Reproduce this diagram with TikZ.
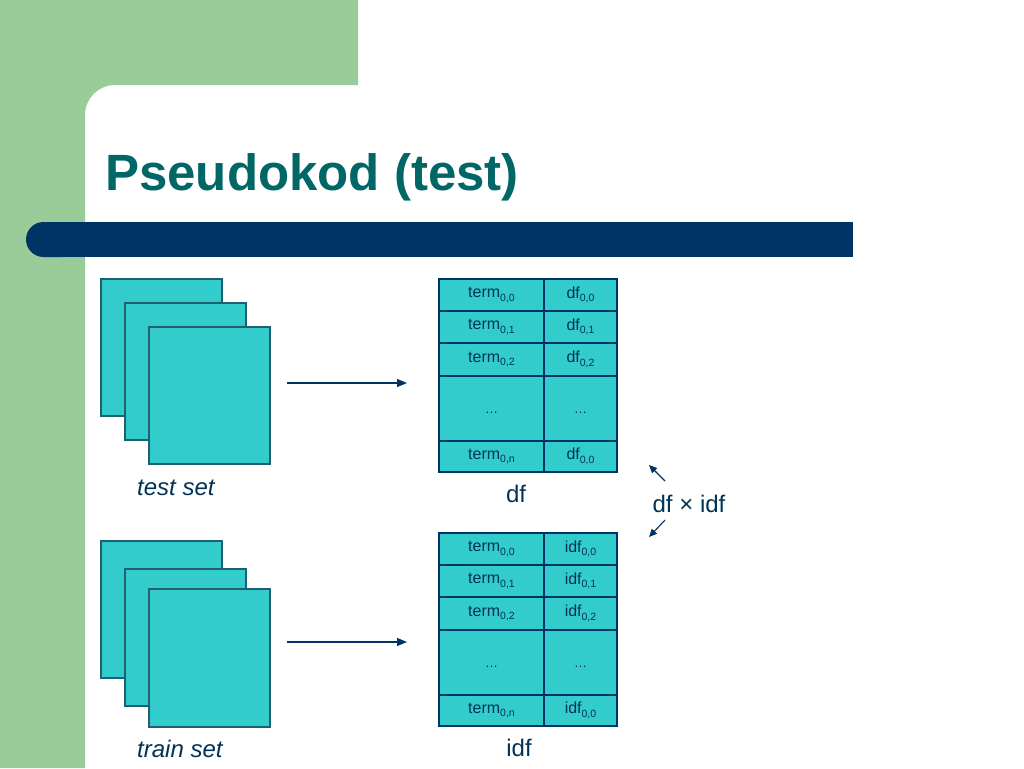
\documentclass[tikz,border=0pt]{standalone}
\usepackage{fontspec}
\setmainfont{Liberation Sans}
\usetikzlibrary{arrows.meta}
\definecolor{bggreen}{HTML}{99CC99}
\definecolor{barblue}{HTML}{003366}
\definecolor{titleteal}{HTML}{006666}
\definecolor{cyanfill}{HTML}{33CCCC}
\definecolor{edgeteal}{HTML}{1F5F6F}
\definecolor{txtblue}{HTML}{003355}
\newcommand{\sbs}[1]{\raisebox{-0.4ex}{\fontsize{10.5}{11}\selectfont #1}}
\newcommand{\myellip}{\raisebox{-5pt}[0pt][0pt]{\fontsize{13}{15}\selectfont …}}
\begin{document}
\begin{tikzpicture}[x=1pt,y=-1pt,
  sheet/.style={draw=edgeteal, fill=cyanfill, line width=1.2pt, inner sep=0pt, outer sep=0pt, anchor=north west, minimum width=121pt, minimum height=137pt},
  cell/.style={draw=barblue, fill=cyanfill, line width=1.1pt, inner sep=0pt, outer sep=0pt, anchor=north west, text=txtblue, font=\fontsize{16}{19}\selectfont},
  lcol/.style={cell, minimum width=105pt},
  rcol/.style={cell, minimum width=73pt},
  conn/.style={draw=barblue, line width=1.2pt, -{Triangle[length=10pt,width=8pt]}},
  small/.style={draw=barblue, line width=1.1pt, -{Triangle[length=8pt,width=7pt]}},
  setlabel/.style={anchor=base west, text=txtblue, font=\fontsize{24}{28}\selectfont\itshape, inner sep=0pt},
  tlabel/.style={anchor=base, text=txtblue, font=\fontsize{24}{28}\selectfont, inner sep=0pt}
]
\useasboundingbox (0,0) rectangle (1024,768);
\clip (0,0) rectangle (1024,768);
% background
\fill[white] (0,0) rectangle (1024,768);
\fill[bggreen] (0,0) -- (358,0) -- (358,85) -- (115,85)
  .. controls (98.43,85) and (85,98.43) .. (85,115) -- (85,768) -- (0,768) -- cycle;
% bar
\fill[barblue, rounded corners=17.5pt] (26,222) rectangle (80,257);
\fill[barblue] (50,222) rectangle (853,257);
% title
\node[anchor=base west, inner sep=0pt, text=titleteal, font=\fontsize{51}{60}\selectfont\bfseries] (title) at (105,190) {Pseudokod (test)};

% test set sheets
\node[sheet] (t1) at (101,279) {};
\node[sheet] (t2) at (125,303) {};
\node[sheet] (t3) at (149,327) {};
\node[setlabel] (tsl) at (137,495) {test set};
% train set sheets
\node[sheet] (r1) at (101,541) {};
\node[sheet] (r2) at (125,569) {};
\node[sheet, minimum height=138pt] (r3) at (149,589) {};
\node[setlabel] (rsl) at (137,757) {train set};

% arrows
\coordinate (a1s) at (287,383);
\coordinate (a1e) at (407,383);
\draw[conn] (a1s) -- (a1e);
\coordinate (a2s) at (287,642);
\coordinate (a2e) at (407,642);
\draw[conn] (a2s) -- (a2e);

% df table
\node[lcol, minimum height=32pt] (d0l) at (439,279) {term\sbs{0,0}};
\node[rcol, minimum height=32pt] (d0r) at (544,279) {df\sbs{0,0}};
\node[lcol, minimum height=32pt] (d1l) at (439,311) {term\sbs{0,1}};
\node[rcol, minimum height=32pt] (d1r) at (544,311) {df\sbs{0,1}};
\node[lcol, minimum height=33pt] (d2l) at (439,343) {term\sbs{0,2}};
\node[rcol, minimum height=33pt] (d2r) at (544,343) {df\sbs{0,2}};
\node[lcol, minimum height=65pt] (d3l) at (439,376) {\myellip};
\node[rcol, minimum height=65pt] (d3r) at (544,376) {\myellip};
\node[lcol, minimum height=31pt] (d4l) at (439,441) {term\sbs{0,n}};
\node[rcol, minimum height=31pt] (d4r) at (544,441) {df\sbs{0,0}};
\node[tlabel] (dflab) at (516,502) {df};

% idf table
\node[lcol, minimum height=32pt] (i0l) at (439,533) {term\sbs{0,0}};
\node[rcol, minimum height=32pt] (i0r) at (544,533) {idf\sbs{0,0}};
\node[lcol, minimum height=32pt] (i1l) at (439,565) {term\sbs{0,1}};
\node[rcol, minimum height=32pt] (i1r) at (544,565) {idf\sbs{0,1}};
\node[lcol, minimum height=33pt] (i2l) at (439,597) {term\sbs{0,2}};
\node[rcol, minimum height=33pt] (i2r) at (544,597) {idf\sbs{0,2}};
\node[lcol, minimum height=65pt] (i3l) at (439,630) {\myellip};
\node[rcol, minimum height=65pt] (i3r) at (544,630) {\myellip};
\node[lcol, minimum height=31pt] (i4l) at (439,695) {term\sbs{0,n}};
\node[rcol, minimum height=31pt] (i4r) at (544,695) {idf\sbs{0,0}};
\node[tlabel] (idflab) at (519,756) {idf};

% df x idf
\node[tlabel] (prod) at (689,512) {df × idf};
\coordinate (u1) at (665,481);
\coordinate (u2) at (649,465);
\draw[small] (u1) -- (u2);
\coordinate (l1) at (665,520);
\coordinate (l2) at (649,537);
\draw[small] (l1) -- (l2);
\end{tikzpicture}
\end{document}
